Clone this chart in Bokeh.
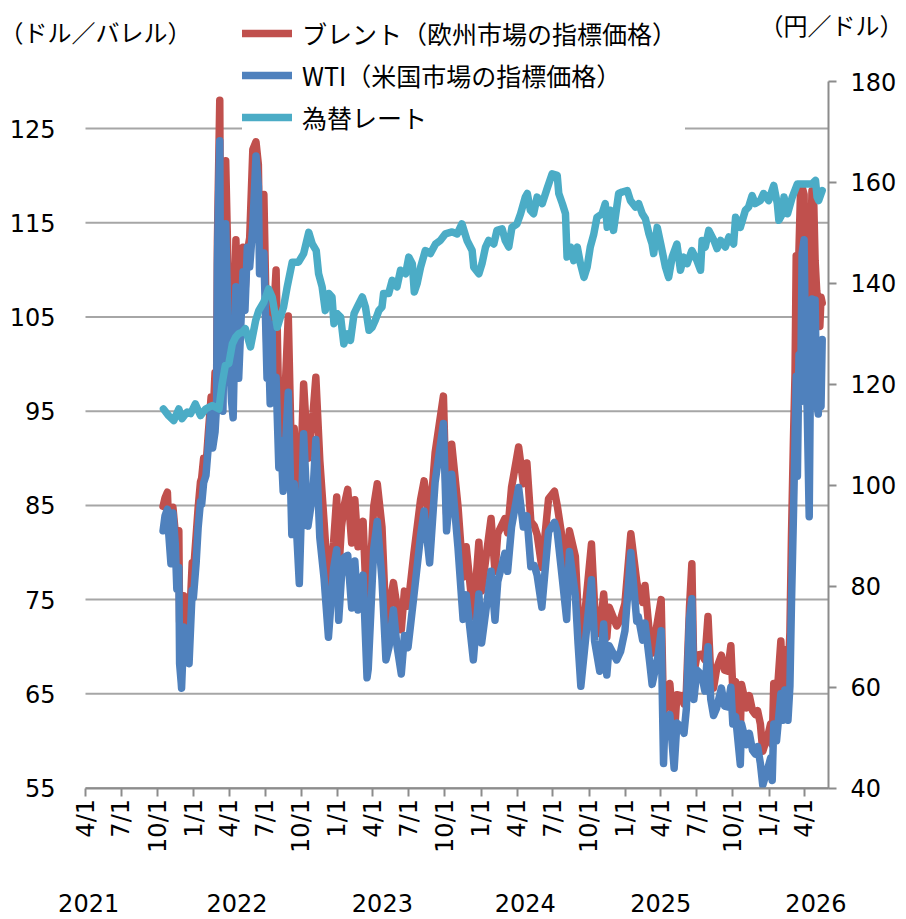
import pandas as pd
from math import pi
from bokeh.plotting import figure
from bokeh.models import (Range1d, LinearAxis, DatetimeAxis, FixedTicker, CustomJSTickFormatter,
                          Legend, LegendItem, Label, ColumnDataSource)
from bokeh.embed import file_html
from bokeh.resources import INLINE

# ---------------- data ----------------
oil_dates = [
    # 2021
    "2021-10-15", "2021-10-20", "2021-10-26", "2021-10-28", "2021-11-04", "2021-11-09", "2021-11-15",
    "2021-11-19", "2021-11-24", "2021-11-26", "2021-11-30", "2021-12-01", "2021-12-07", "2021-12-10",
    "2021-12-20", "2021-12-28", "2021-12-31",
    # 2022
    "2022-01-07", "2022-01-12", "2022-01-18", "2022-01-21", "2022-01-26", "2022-02-01", "2022-02-07",
    "2022-02-14", "2022-02-18", "2022-02-24", "2022-02-28", "2022-03-02", "2022-03-04", "2022-03-08",
    "2022-03-10", "2022-03-16", "2022-03-23", "2022-03-29", "2022-04-07", "2022-04-11", "2022-04-18",
    "2022-04-25", "2022-05-06", "2022-05-11", "2022-05-17", "2022-05-23", "2022-05-31", "2022-06-08",
    "2022-06-14", "2022-06-17", "2022-06-28", "2022-07-06", "2022-07-08", "2022-07-14", "2022-07-19",
    "2022-07-21", "2022-07-29", "2022-08-05", "2022-08-10", "2022-08-16", "2022-08-29", "2022-09-07",
    "2022-09-13", "2022-09-26", "2022-10-07", "2022-10-18", "2022-10-31", "2022-11-07", "2022-11-17",
    "2022-11-28", "2022-12-09", "2022-12-22", "2022-12-30",
    # 2023
    "2023-01-04", "2023-01-11", "2023-01-18", "2023-01-27", "2023-02-06", "2023-02-14", "2023-02-22",
    "2023-03-07", "2023-03-17", "2023-03-20", "2023-04-03", "2023-04-12", "2023-04-24", "2023-05-04",
    "2023-05-12", "2023-05-23", "2023-06-01", "2023-06-12", "2023-06-20", "2023-06-29", "2023-07-14",
    "2023-07-31", "2023-08-09", "2023-08-23", "2023-09-06", "2023-09-27", "2023-10-05", "2023-10-18",
    "2023-11-03", "2023-11-16", "2023-11-24", "2023-12-12", "2023-12-26",
    # 2024
    "2024-01-02", "2024-01-26", "2024-02-05", "2024-02-12", "2024-03-01", "2024-03-08", "2024-03-18",
    "2024-04-05", "2024-04-17", "2024-04-26", "2024-05-06", "2024-05-15", "2024-05-22", "2024-06-03",
    "2024-06-20", "2024-07-05", "2024-07-12", "2024-07-24", "2024-08-05", "2024-08-12", "2024-08-27",
    "2024-09-03", "2024-09-10", "2024-09-24", "2024-10-07", "2024-10-15", "2024-10-28", "2024-11-07",
    "2024-11-15", "2024-11-21", "2024-12-10", "2024-12-20", "2024-12-31",
    # 2025
    "2025-01-15", "2025-01-30", "2025-02-03", "2025-02-14", "2025-02-20", "2025-03-04", "2025-03-10",
    "2025-03-25", "2025-04-02", "2025-04-08", "2025-04-10", "2025-04-24", "2025-05-05", "2025-05-12",
    "2025-05-23", "2025-05-30", "2025-06-05", "2025-06-13", "2025-06-19", "2025-06-24", "2025-07-02",
    "2025-07-14", "2025-07-22", "2025-07-30", "2025-08-06", "2025-08-13", "2025-08-21", "2025-09-02",
    "2025-09-10", "2025-09-18", "2025-09-26", "2025-10-01", "2025-10-08", "2025-10-20", "2025-10-23",
    "2025-11-05", "2025-11-12", "2025-11-20", "2025-11-27", "2025-12-03", "2025-12-10", "2025-12-16",
    "2025-12-31",
    # 2026
    "2026-01-05", "2026-01-09", "2026-01-13", "2026-01-20", "2026-01-31", "2026-02-05", "2026-02-10",
    "2026-02-14", "2026-02-18", "2026-02-23", "2026-02-27", "2026-03-04", "2026-03-08", "2026-03-11",
    "2026-03-14", "2026-03-18", "2026-03-22", "2026-03-26", "2026-03-31", "2026-04-04", "2026-04-08",
    "2026-04-13", "2026-04-17", "2026-04-20", "2026-04-24", "2026-04-28", "2026-05-02", "2026-05-06",
    "2026-05-10", "2026-05-13", "2026-05-16",
]
brent = [
    # 2021
    84.9, 85.8, 86.4, 84.3, 80.5, 84.8, 82.1,
    78.9, 82.3, 72.7, 70.6, 68.9, 75.4, 75.2,
    71.5, 78.9, 77.8,
    # 2022
    81.8, 84.7, 87.5, 87.9, 90.0, 89.2, 92.7,
    96.5, 93.5, 99.1, 98.0, 112.9, 118.1, 128.0,
    109.3, 98.0, 121.6, 110.2, 100.6, 98.5, 113.2,
    102.3, 112.4, 107.5, 111.9, 113.4, 122.8, 123.6,
    121.2, 113.1, 118.0, 100.7, 107.0, 99.1, 107.4,
    103.9, 110.0, 94.9, 97.4, 92.3, 105.1, 88.0,
    93.2, 84.1, 97.9, 90.0, 94.8, 98.6, 89.8,
    83.2, 76.1, 81.0, 85.9,
    # 2023
    77.8, 82.7, 85.0, 86.7, 81.0, 85.6, 80.6,
    83.3, 73.0, 73.8, 84.9, 87.3, 82.7, 72.5,
    74.2, 76.8, 74.3, 71.8, 75.9, 74.3, 79.9,
    85.6, 87.6, 83.2, 90.6, 96.6, 84.1, 91.5,
    84.9, 77.4, 80.6, 73.2, 81.1,
    # 2024
    75.9, 83.6, 78.0, 82.0, 83.6, 82.1, 86.9,
    91.2, 87.3, 89.5, 83.3, 82.8, 81.9, 78.4,
    85.7, 86.5, 85.0, 81.7, 76.3, 82.3, 79.6,
    73.8, 69.2, 75.2, 80.9, 74.3, 71.4, 75.6,
    71.0, 74.2, 72.2, 72.9, 74.6,
    # 2025
    82.0, 76.9, 76.0, 74.7, 76.5, 71.0, 69.3,
    73.0, 75.0, 62.8, 63.3, 66.1, 60.2, 64.9,
    64.8, 63.9, 65.3, 74.2, 78.8, 67.1, 69.1,
    69.2, 68.6, 73.2, 66.9, 65.6, 67.7, 69.1,
    67.5, 67.4, 70.1, 65.4, 66.3, 61.0, 66.0,
    63.5, 64.8, 63.2, 62.8, 63.2, 61.8, 58.9,
    60.9,
    # 2026
    61.8, 59.6, 66.1, 64.0, 70.6, 65.0, 68.5,
    69.7, 66.8, 71.5, 81.8, 92.0, 99.0, 111.5,
    103.0, 112.1, 118.4, 118.8, 118.0, 104.0, 100.0,
    96.0, 112.0, 118.4, 118.1, 111.0, 107.8, 106.4,
    104.0, 107.1, 106.5,
]
wti = [
    # 2021
    82.3, 83.9, 84.6, 82.8, 78.8, 84.2, 80.9,
    76.1, 78.4, 68.2, 66.2, 65.6, 72.1, 71.7,
    68.2, 76.0, 75.2,
    # 2022
    78.9, 82.6, 85.4, 85.1, 87.4, 88.2, 91.3,
    95.5, 91.1, 92.8, 95.7, 110.6, 115.7, 123.7,
    106.0, 95.0, 114.9, 104.2, 96.0, 94.3, 108.2,
    98.5, 109.8, 105.7, 112.4, 110.3, 114.7, 122.1,
    118.9, 109.6, 111.8, 98.5, 104.8, 95.8, 104.2,
    96.4, 98.6, 89.0, 91.9, 86.5, 97.0, 81.9,
    87.3, 76.7, 92.6, 82.8, 86.5, 92.0, 81.6,
    77.2, 71.0, 78.3, 80.3,
    # 2023
    72.8, 77.4, 79.5, 79.7, 74.1, 79.1, 73.9,
    77.6, 66.7, 67.6, 80.4, 83.3, 77.1, 68.6,
    70.0, 73.9, 70.1, 67.1, 71.2, 69.9, 75.4,
    81.8, 84.4, 78.9, 87.5, 93.7, 82.3, 88.3,
    80.5, 72.9, 75.5, 68.6, 75.6,
    # 2024
    70.4, 78.0, 72.8, 76.9, 79.9, 78.0, 82.7,
    86.9, 82.7, 83.9, 78.5, 78.6, 77.6, 74.2,
    82.2, 83.2, 82.2, 77.6, 72.9, 80.1, 75.5,
    70.3, 65.8, 71.6, 77.1, 70.6, 67.4, 72.4,
    67.0, 70.1, 68.6, 69.5, 71.7,
    # 2025
    80.0, 72.7, 73.2, 70.7, 72.5, 68.3, 66.0,
    69.0, 71.7, 57.6, 60.1, 62.8, 57.1, 61.9,
    61.5, 60.8, 63.4, 73.0, 75.1, 64.4, 67.5,
    67.0, 65.3, 70.0, 64.4, 62.7, 63.5, 65.6,
    63.7, 63.6, 65.7, 61.8, 62.6, 57.5, 61.8,
    59.6, 60.8, 59.0, 58.6, 59.4, 57.6, 55.3,
    57.4,
    # 2026
    58.2, 55.8, 61.8, 60.0, 65.0, 62.2, 65.4,
    63.5, 62.2, 65.8, 74.7, 84.0, 92.0, 98.7,
    88.1, 101.0, 96.0, 111.8, 113.2, 100.0, 95.0,
    83.8, 103.0, 106.9, 98.0, 106.8, 96.0, 94.7,
    100.0, 95.5, 102.6,
]

fx_dates = [
    "2021-10-16", "2021-10-29", "2021-11-11", "2021-11-24", "2021-12-02", "2021-12-15", "2021-12-24",
    "2022-01-05", "2022-01-18", "2022-01-31", "2022-02-17", "2022-03-06", "2022-03-14", "2022-03-22",
    "2022-03-31", "2022-04-09", "2022-04-17", "2022-04-25", "2022-05-04", "2022-05-12", "2022-05-25",
    "2022-06-07", "2022-06-15", "2022-06-28", "2022-07-10", "2022-07-19", "2022-08-01", "2022-08-09",
    "2022-08-17", "2022-08-26", "2022-09-08", "2022-09-24", "2022-10-07", "2022-10-20", "2022-10-29",
    "2022-11-08", "2022-11-14", "2022-11-23", "2022-12-01", "2022-12-10", "2022-12-18", "2022-12-23",
    "2022-12-31", "2023-01-09", "2023-01-17", "2023-01-26", "2023-02-03", "2023-02-12", "2023-02-20",
    "2023-03-05", "2023-03-13", "2023-03-22", "2023-03-30", "2023-04-07", "2023-04-16", "2023-04-24",
    "2023-04-28", "2023-05-11", "2023-05-20", "2023-06-01", "2023-06-10", "2023-06-23", "2023-07-01",
    "2023-07-10", "2023-07-15", "2023-07-22", "2023-07-31", "2023-08-12", "2023-08-25", "2023-09-07",
    "2023-09-19", "2023-10-02", "2023-10-19", "2023-11-01", "2023-11-13", "2023-11-26", "2023-12-09",
    "2023-12-13", "2023-12-26", "2024-01-03", "2024-01-12", "2024-01-20", "2024-02-02", "2024-02-10",
    "2024-02-23", "2024-03-02", "2024-03-11", "2024-03-19", "2024-04-01", "2024-04-10", "2024-04-22",
    "2024-04-27", "2024-05-05", "2024-05-13", "2024-05-22", "2024-06-04", "2024-06-16", "2024-06-29",
    "2024-07-12", "2024-07-16", "2024-07-25", "2024-08-02", "2024-08-06", "2024-08-15", "2024-08-23",
    "2024-09-01", "2024-09-09", "2024-09-18", "2024-09-26", "2024-10-04", "2024-10-13", "2024-10-21",
    "2024-11-03", "2024-11-11", "2024-11-16", "2024-11-24", "2024-12-02", "2024-12-15", "2024-12-24",
    "2025-01-06", "2025-01-14", "2025-01-27", "2025-02-04", "2025-02-13", "2025-02-21", "2025-03-02",
    "2025-03-10", "2025-03-14", "2025-03-23", "2025-04-01", "2025-04-13", "2025-04-21", "2025-04-30",
    "2025-05-12", "2025-05-21", "2025-05-29", "2025-06-07", "2025-06-19", "2025-07-02", "2025-07-11",
    "2025-07-15", "2025-07-23", "2025-08-01", "2025-08-14", "2025-08-22", "2025-08-31", "2025-09-12",
    "2025-09-21", "2025-10-03", "2025-10-08", "2025-10-20", "2025-11-02", "2025-11-10", "2025-11-19",
    "2025-11-27", "2025-12-10", "2025-12-18", "2025-12-31", "2026-01-13", "2026-01-22", "2026-01-26",
    "2026-02-04", "2026-02-08", "2026-02-17", "2026-03-01", "2026-03-14", "2026-03-27", "2026-04-08",
    "2026-04-20", "2026-04-29", "2026-05-03", "2026-05-07", "2026-05-16",
]
usdjpy = [
    115.1, 113.8, 112.8, 115.1, 113.2, 114.5, 114.2,
    116.1, 113.8, 115.1, 115.8, 115.1, 120.1, 123.7,
    124.1, 128.0, 129.3, 130.0, 130.3, 131.0, 127.4,
    132.6, 134.6, 136.3, 138.9, 137.3, 131.3, 133.3,
    135.3, 139.2, 144.2, 144.2, 145.9, 150.1, 147.8,
    146.5, 141.9, 139.3, 134.6, 138.0, 137.3, 132.0,
    134.0, 133.3, 128.0, 130.0, 128.7, 134.0, 135.3,
    137.3, 135.3, 130.7, 131.3, 132.7, 134.6, 135.3,
    138.0, 138.0, 140.6, 139.3, 142.6, 141.9, 145.2,
    143.9, 138.3, 139.9, 143.2, 146.5, 145.9, 147.8,
    148.5, 149.8, 150.2, 149.8, 151.8, 148.5, 146.5,
    143.2, 141.9, 143.9, 147.2, 148.5, 147.8, 150.5,
    150.8, 148.5, 147.2, 151.1, 151.8, 153.8, 157.1,
    157.8, 154.5, 153.8, 157.1, 155.8, 158.7, 161.7,
    161.4, 157.8, 155.8, 153.8, 145.2, 147.2, 144.5,
    147.2, 143.9, 141.2, 143.2, 147.2, 149.8, 153.1,
    153.8, 155.8, 151.1, 154.5, 150.5, 157.8, 158.1,
    158.4, 156.4, 155.1, 155.8, 153.8, 152.8, 149.8,
    147.8, 145.9, 151.1, 147.8, 143.2, 141.2, 145.2,
    147.8, 142.6, 145.2, 143.9, 146.5, 144.5, 142.6,
    148.5, 147.2, 150.5, 148.5, 146.9, 148.5, 147.2,
    149.2, 147.8, 153.1, 151.1, 154.5, 155.1, 157.4,
    155.8, 156.4, 157.8, 156.4, 159.4, 155.8, 152.5,
    153.8, 157.1, 153.8, 157.1, 159.7, 159.7, 159.7,
    159.7, 160.4, 157.1, 156.4, 158.4,
]

quarter_ticks = [
    "2021-04-01", "2021-07-01", "2021-10-01", "2022-01-01", "2022-04-01", "2022-07-01", "2022-10-01",
    "2023-01-01", "2023-04-01", "2023-07-01", "2023-10-01", "2024-01-01", "2024-04-01", "2024-07-01",
    "2024-10-01", "2025-01-01", "2025-04-01", "2025-07-01", "2025-10-01", "2026-01-01", "2026-04-01",
]
year_label_dates = ["2021-04-09", "2022-04-21", "2023-04-25", "2024-04-22", "2025-04-01", "2026-04-30"]
x_start, x_end = "2021-04-01", "2026-06-01"
left_ticks = [55, 65, 75, 85, 95, 105, 115, 125]
right_ticks = [40, 60, 80, 100, 120, 140, 160, 180]
left_min, left_max = 55, 130
right_min, right_max = 40, 180

series_names = ["ブレント（欧州市場の指標価格）", "WTI（米国市場の指標価格）", "為替レート"]
left_title = "（ドル／バレル）"
right_title = "（円／ドル）"

assert len(oil_dates) == len(brent) == len(wti)
assert len(fx_dates) == len(usdjpy)

# ---------------- layout / styling ----------------
W, H = 906, 919
PL, PR, PT, PB = 85, 828, 81, 787.5      # plot-area edges in canvas pixels
C_BRENT = "#C0504D"
C_WTI = "#4F81BD"
C_FX = "#4BACC6"
C_AXIS = "#8C8C8C"
C_GRID = "#A6A6A6"
NUM_FONT = "DejaVu Sans"
JP_FONT = "Noto Sans CJK JP"
FS = "24px"
LW = 7.5


def ms(d):
    return pd.Timestamp(d).value // 10**6


x0, x1 = ms(x_start), ms(x_end)
kx = (x1 - x0) / (PR - PL)
ky = (left_max - left_min) / (PB - PT)
kr = (right_max - right_min) / (PB - PT)

oil_df = pd.DataFrame(dict(date=pd.to_datetime(oil_dates), brent=brent, wti=wti)).sort_values("date")
fx_df = pd.DataFrame(dict(date=pd.to_datetime(fx_dates), fx=usdjpy)).sort_values("date")
oil_src = ColumnDataSource(oil_df)
fx_src = ColumnDataSource(fx_df)

p = figure(width=W, height=H, x_axis_type=None, y_axis_type=None,
           x_range=Range1d(x0 - PL * kx, x1 + (W - PR) * kx),
           y_range=Range1d(left_min - (H - PB) * ky, left_max + PT * ky),
           output_backend="svg", toolbar_location=None, min_border=0)
p.title.visible = False
p.outline_line_color = None
p.background_fill_color = "white"
p.border_fill_color = "white"
p.extra_y_ranges = {"fx": Range1d(right_min - (H - PB) * kr, right_max + PT * kr)}

# horizontal gridlines spanning the plot area only
p.segment(x0=[x0] * len(left_ticks), x1=[x1] * len(left_ticks), y0=left_ticks, y1=left_ticks,
          line_color=C_GRID, line_width=2)

r_brent = p.line("date", "brent", source=oil_src, line_color=C_BRENT, line_width=LW,
                 line_join="round", line_cap="round")
r_wti = p.line("date", "wti", source=oil_src, line_color=C_WTI, line_width=LW,
               line_join="round", line_cap="round")
r_fx = p.line("date", "fx", source=fx_src, y_range_name="fx", line_color=C_FX, line_width=LW,
              line_join="round", line_cap="round")

# x axis (quarters)
xa = DatetimeAxis(fixed_location=left_min, bounds=(x0, x1),
                  ticker=FixedTicker(ticks=[ms(d) for d in quarter_ticks]),
                  formatter=CustomJSTickFormatter(
                      code="const d = new Date(tick); return (d.getUTCMonth() + 1) + '/' + d.getUTCDate();"))
xa.major_label_orientation = pi / 2
xa.axis_line_color = C_AXIS
xa.axis_line_width = 2
xa.major_tick_line_color = C_AXIS
xa.major_tick_line_width = 2
xa.major_tick_out = 8
xa.major_tick_in = 0
xa.minor_tick_line_color = None
xa.major_label_standoff = 3
xa.major_label_text_font = NUM_FONT
xa.major_label_text_font_size = FS
xa.major_label_text_color = "black"
p.add_layout(xa, "below")

# year labels
ya = DatetimeAxis(fixed_location=left_min, bounds=(x0, x1),
                  ticker=FixedTicker(ticks=[ms(d) for d in year_label_dates]),
                  formatter=CustomJSTickFormatter(code="return String(new Date(tick).getUTCFullYear());"))
ya.axis_line_color = None
ya.major_tick_line_color = None
ya.minor_tick_line_color = None
ya.major_tick_out = 0
ya.major_tick_in = 0
ya.major_label_standoff = 106
ya.major_label_text_font = NUM_FONT
ya.major_label_text_font_size = FS
ya.major_label_text_color = "black"
p.add_layout(ya, "below")

# left axis
la = LinearAxis(fixed_location=x0, bounds=(left_min, left_max), ticker=FixedTicker(ticks=left_ticks))
la.axis_line_color = None
la.major_tick_line_color = None
la.minor_tick_line_color = None
la.major_label_standoff = 24
la.major_label_text_font = NUM_FONT
la.major_label_text_font_size = FS
la.major_label_text_color = "black"
p.add_layout(la, "left")

# right axis
ra = LinearAxis(y_range_name="fx", fixed_location=x1, bounds=(right_min, right_max),
                ticker=FixedTicker(ticks=right_ticks))
ra.axis_line_color = C_AXIS
ra.axis_line_width = 2
ra.major_tick_line_color = C_AXIS
ra.major_tick_line_width = 2
ra.major_tick_out = 8
ra.major_tick_in = 0
ra.minor_tick_line_color = None
ra.major_label_standoff = 14
ra.major_label_text_font = NUM_FONT
ra.major_label_text_font_size = FS
ra.major_label_text_color = "black"
p.add_layout(ra, "right")

legend = Legend(items=[LegendItem(label=series_names[0], renderers=[r_brent]),
                       LegendItem(label=series_names[1], renderers=[r_wti]),
                       LegendItem(label=series_names[2], renderers=[r_fx])],
                location=(242, H - 135), orientation="vertical", padding=4, margin=0, spacing=6,
                glyph_width=50, glyph_height=30, label_height=30, label_width=383, label_standoff=10,
                label_text_font=JP_FONT, label_text_font_size="25px", label_text_color="black",
                background_fill_color="white", background_fill_alpha=1.0, border_line_color=None)
p.add_layout(legend)

p.add_layout(Label(x=-1, y=H - 31, x_units="screen", y_units="screen", text=left_title,
                   text_font=JP_FONT, text_font_size=FS, text_color="black",
                   text_baseline="middle", text_align="left"))
p.add_layout(Label(x=759, y=H - 24, x_units="screen", y_units="screen", text=right_title,
                   text_font=JP_FONT, text_font_size=FS, text_color="black",
                   text_baseline="middle", text_align="left"))

open("out.html", "w").write(file_html(p, INLINE))
